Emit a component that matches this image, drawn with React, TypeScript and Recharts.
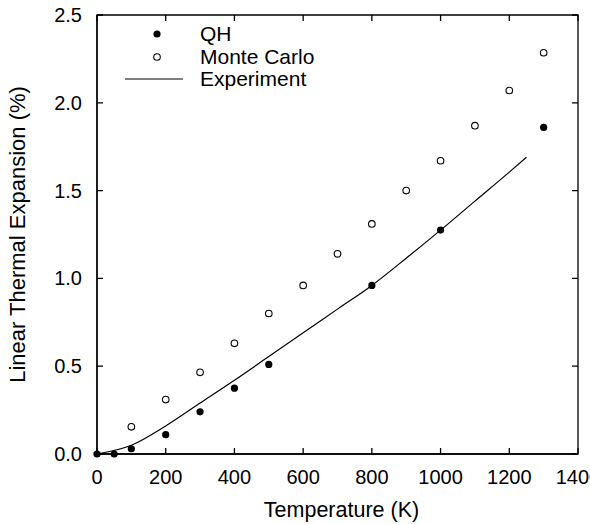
import { ComposedChart, Scatter, Line, XAxis, YAxis, Legend, Label, ReferenceArea } from 'recharts';

// temperatures (K) and linear thermal expansion (%)
const qhTemps = [0, 50, 100, 200, 300, 400, 500, 800, 1000, 1300];
const qhValues = [0, 0, 0.03, 0.11, 0.24, 0.375, 0.51, 0.96, 1.275, 1.86];

const mcTemps = [100, 200, 300, 400, 500, 600, 700, 800, 900, 1000, 1100, 1200, 1300];
const mcValues = [0.155, 0.31, 0.465, 0.63, 0.8, 0.96, 1.14, 1.31, 1.5, 1.67, 1.87, 2.07, 2.285];

const expTemps = [0, 100, 200, 300, 400, 500, 600, 700, 800, 900, 1000, 1100, 1200, 1250];
const expValues = [0, 0.05, 0.16, 0.29, 0.42, 0.555, 0.69, 0.825, 0.96, 1.115, 1.275, 1.44, 1.605, 1.69];

const xTicks = [0, 200, 400, 600, 800, 1000, 1200, 1400];
const yTicks = [0, 0.5, 1, 1.5, 2, 2.5];
const seriesNames = ['QH', 'Monte Carlo', 'Experiment'];

const zip = (ts: number[], vs: number[]) => ts.map((t, i) => ({ t, v: vs[i] }));

const qhData = zip(qhTemps, qhValues);
const mcData = zip(mcTemps, mcValues);
const expData = zip(expTemps, expValues);

const W = 590;
const H = 524;
const MARGIN = { top: 15, right: 12, bottom: 0, left: 0 };
const X_AXIS_H = 70;
const Y_AXIS_W = 97;
const PLOT_W = W - MARGIN.left - MARGIN.right - Y_AXIS_W;
const PLOT_H = H - MARGIN.top - MARGIN.bottom - X_AXIS_H;

const FONT = '"Liberation Sans", Arial, Helvetica, sans-serif';
const axisLine = { stroke: '#000', strokeWidth: 1.3 };
const TICK = 6;
const tickStroke = { stroke: '#000', strokeWidth: 1.3, fill: 'none' };

// inward tick marks on both opposite sides, drawn together with the labels
const BottomTick = (p: any) => {
  const x = Number(p.x);
  const y = Number(p.y);
  return (
    <g>
      <path d={`M${x},${y}V${y - TICK}M${x},${y - PLOT_H}V${y - PLOT_H + TICK}`} {...tickStroke} />
      <text x={x} y={y + 30} textAnchor="middle" fill="#000" fontSize={20} fontFamily={FONT}>
        {p.payload.value}
      </text>
    </g>
  );
};
const LeftTick = (p: any) => {
  const x = Number(p.x);
  const y = Number(p.y);
  return (
    <g>
      <path d={`M${x},${y}H${x + TICK}M${x + PLOT_W},${y}H${x + PLOT_W - TICK}`} {...tickStroke} />
      <text x={x - 15} y={y + 7} textAnchor="end" fill="#000" fontSize={20} fontFamily={FONT}>
        {Number(p.payload.value).toFixed(1)}
      </text>
    </g>
  );
};

const FilledDot = (p: any) => <circle cx={p.cx} cy={p.cy} r={3.6} fill="#000" />;
const OpenDot = (p: any) => <circle cx={p.cx} cy={p.cy} r={3.3} fill="#fff" stroke="#000" strokeWidth={1.1} />;

function LegendBox() {
  return (
    <div style={{ fontFamily: FONT, fontSize: 21, color: '#000' }}>
      {seriesNames.map((name, i) => (
        <div key={name} style={{ display: 'flex', alignItems: 'center', height: 22.5, lineHeight: '22.5px' }}>
          <svg width={82} height={22} style={{ flex: 'none' }}>
            {i === 0 && <circle cx={39} cy={11} r={3.6} fill="#000" />}
            {i === 1 && <circle cx={39} cy={11} r={3.3} fill="#fff" stroke="#000" strokeWidth={1.1} />}
            {i === 2 && <line x1={7} x2={65} y1={11} y2={11} stroke="#000" strokeWidth={1.2} />}
          </svg>
          <span>{name}</span>
        </div>
      ))}
    </div>
  );
}

export default function App() {
  return (
    <div style={{ position: 'absolute', left: 0, top: 0, width: W, height: H, background: '#fff', fontFamily: FONT }}>
      <ComposedChart width={W} height={H} margin={MARGIN}>
        <XAxis
          dataKey="t"
          type="number"
          domain={[0, 1400]}
          ticks={xTicks}
          height={X_AXIS_H}
          axisLine={axisLine}
          tickLine={false}
          tickSize={0}
          tickMargin={0}
          tick={BottomTick}
          interval={0}
        >
          <Label value="Temperature (K)" position="insideBottom" offset={7} dx={4} style={{ fill: '#000', fontSize: 21.5, fontFamily: FONT }} />
        </XAxis>
        <YAxis
          dataKey="v"
          type="number"
          domain={[0, 2.5]}
          ticks={yTicks}
          width={Y_AXIS_W}
          axisLine={axisLine}
          tickLine={false}
          tickSize={0}
          tickMargin={0}
          tick={LeftTick}
          interval={0}
        >
          <Label value="Linear Thermal Expansion (%)" angle={-90} position="center" dx={-31} style={{ fill: '#000', fontSize: 22, fontFamily: FONT }} />
        </YAxis>
        <ReferenceArea
          x1={0}
          x2={1400}
          y1={0}
          y2={2.5}
          fill="none"
          fillOpacity={0}
          stroke="#000"
          strokeWidth={1.3}
          strokeOpacity={1}
        />
        <Legend
          layout="vertical"
          align="center"
          verticalAlign="middle"
          wrapperStyle={{ left: 118, top: 23, width: 230 }}
          content={() => <LegendBox />}
        />
        <Line
          data={expData}
          dataKey="v"
          type="monotone"
          stroke="#000"
          strokeWidth={1.2}
          dot={false}
          activeDot={false}
          isAnimationActive={false}
        />
        <Scatter data={mcData} dataKey="v" shape={OpenDot} isAnimationActive={false} />
        <Scatter data={qhData} dataKey="v" shape={FilledDot} isAnimationActive={false} />
      </ComposedChart>
    </div>
  );
}
